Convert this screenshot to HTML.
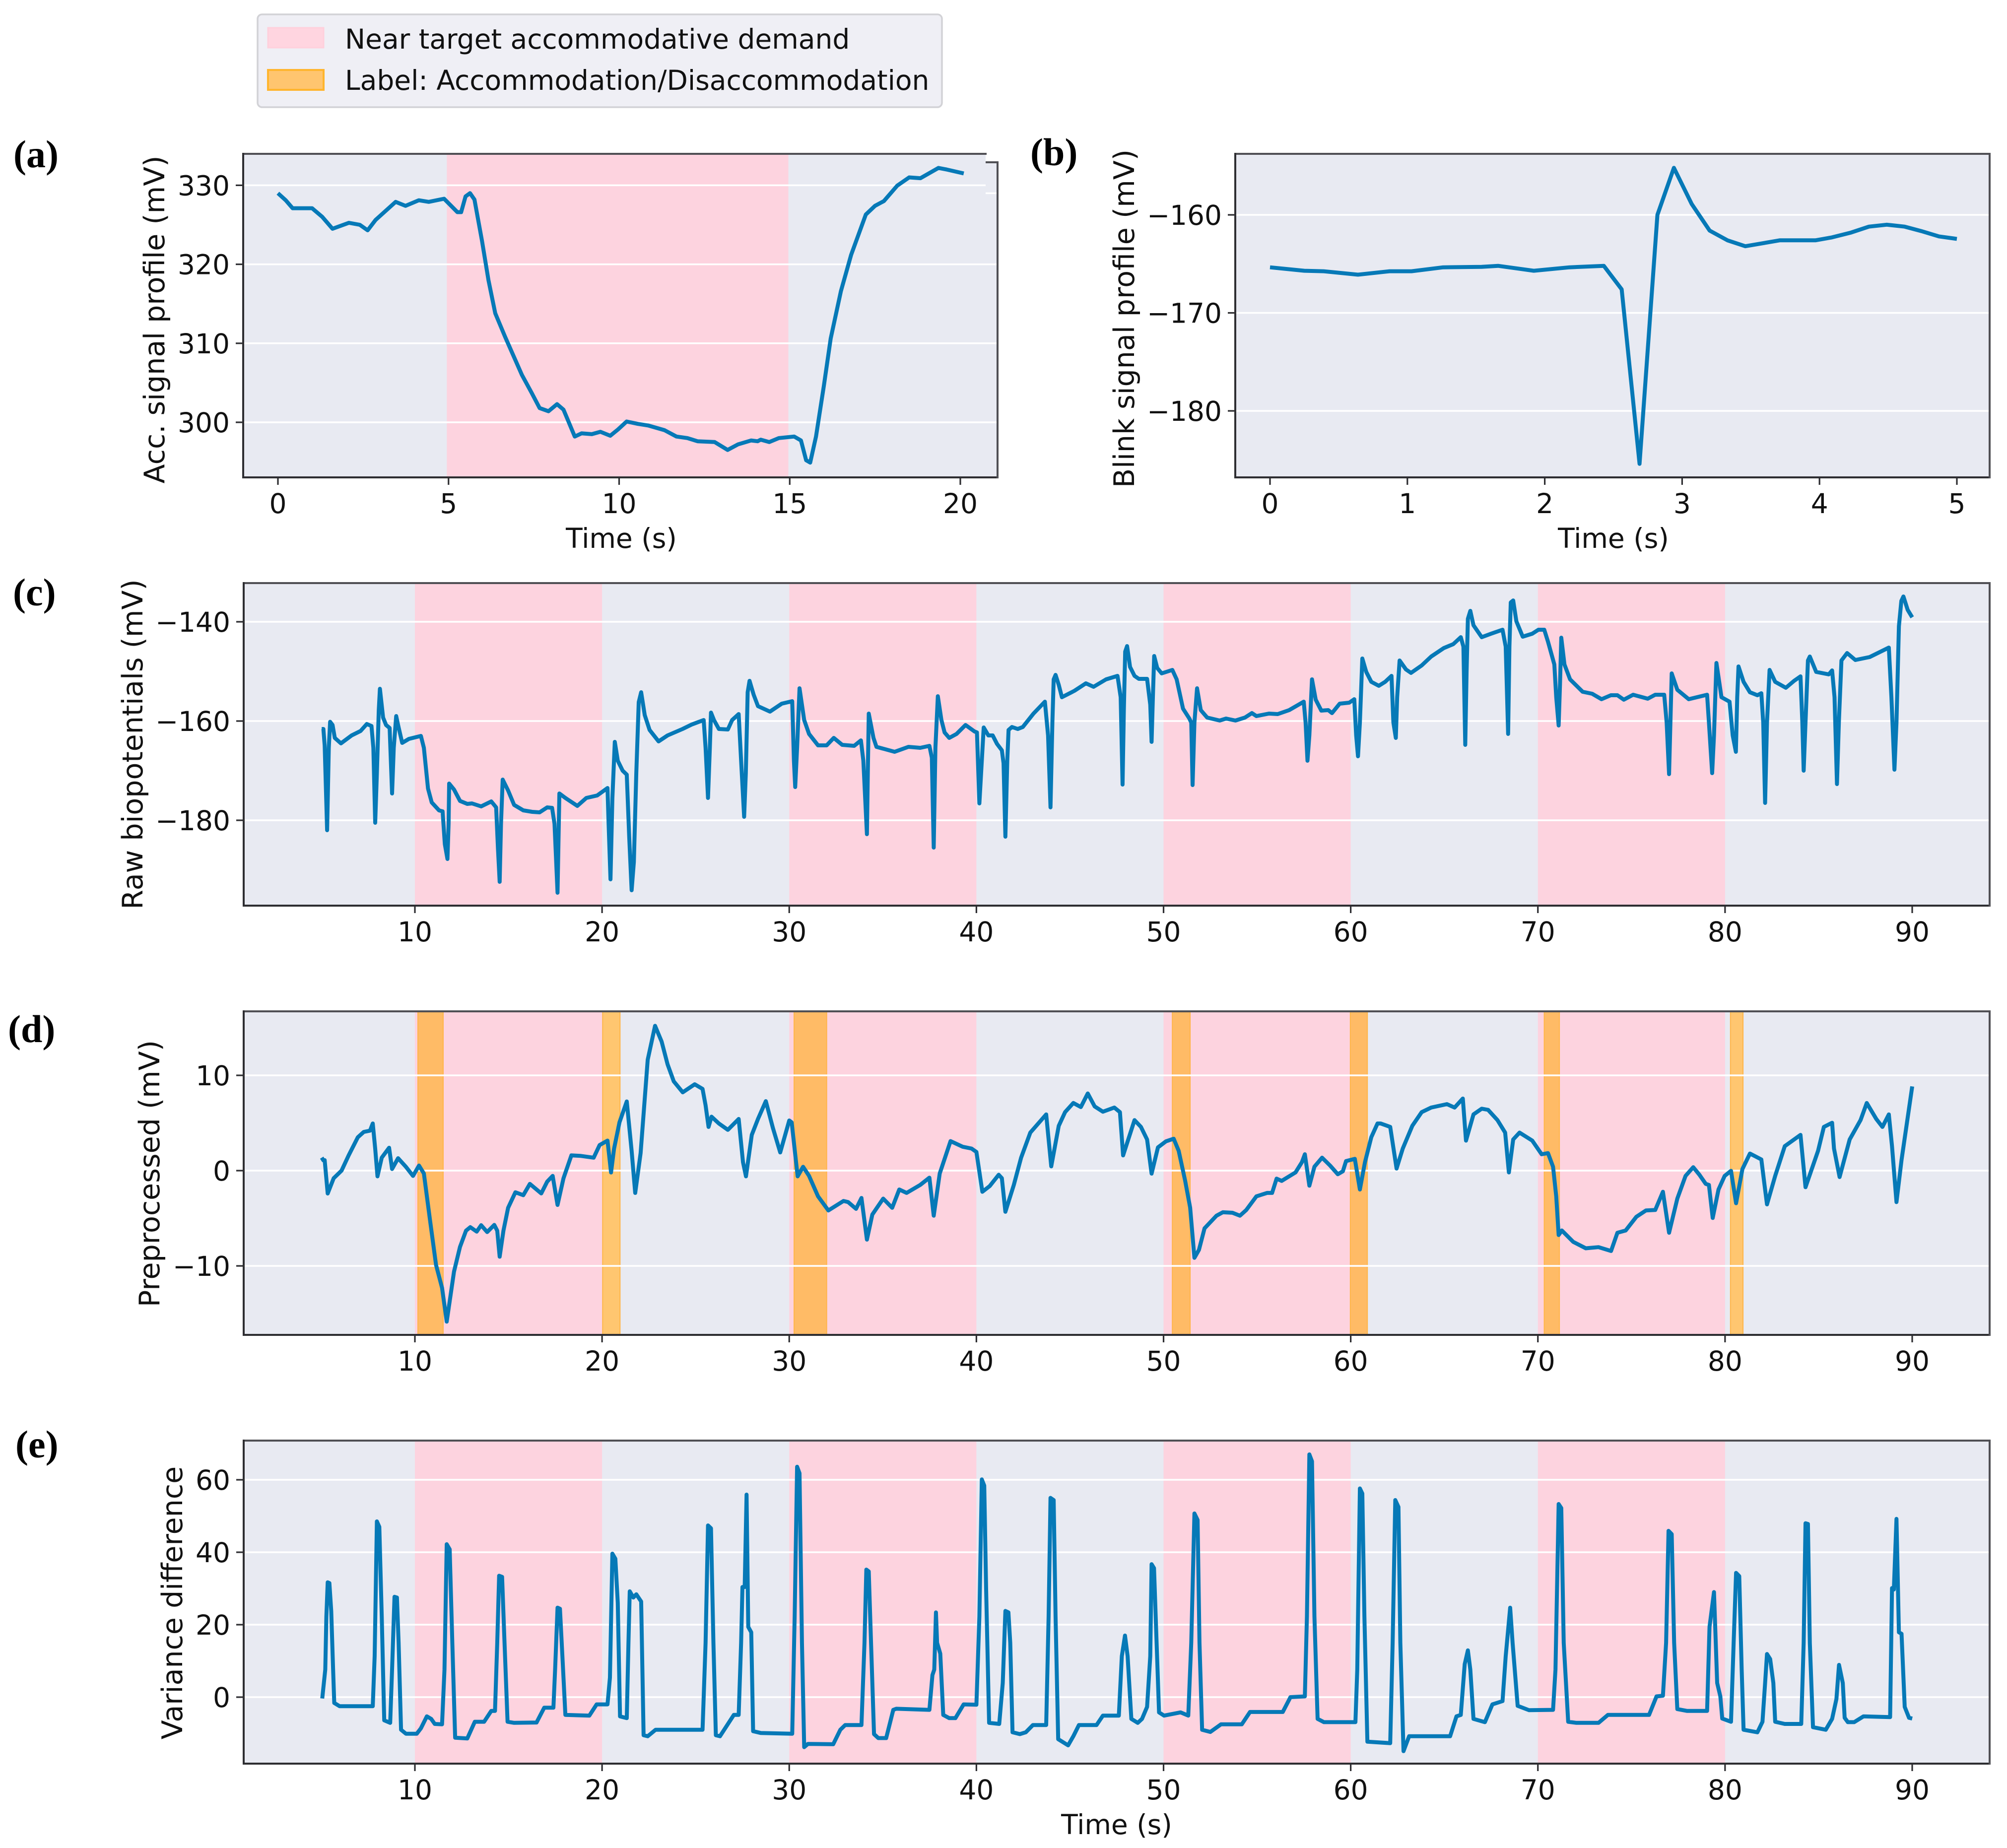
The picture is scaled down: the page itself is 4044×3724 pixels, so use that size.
<!DOCTYPE html>
<html lang="en">
<head>
<meta charset="utf-8">
<title>Biopotential signal profiles</title>
<style>
html,body{margin:0;padding:0;background:#fff;}
svg{display:block;}
text{font-family:"DejaVu Sans","Liberation Sans",sans-serif;fill:#111;}
.panel-tag{font-family:"Liberation Serif",serif;font-weight:bold;font-size:78px;fill:#000;}
</style>
</head>
<body>
<svg id="figure" xmlns="http://www.w3.org/2000/svg" width="4044" height="3724" viewBox="0 0 4044 3724">
  <rect x="0" y="0" width="4044" height="3724" fill="#ffffff"/>
  <g>
    <rect x="519" y="29" width="1379" height="187" rx="9" fill="#efeff5" stroke="#d2d2d6" stroke-width="3.5"/>
    <rect x="540" y="56" width="112" height="40" fill="#ffd5e0" stroke="#ffd0dc" stroke-width="3"/>
    <text x="695" y="98" font-size="55">Near target accommodative demand</text>
    <rect x="540" y="141" width="112" height="40" fill="#ffc56f" stroke="#ffb52e" stroke-width="4"/>
    <text x="695" y="181" font-size="55">Label: Accommodation/Disaccommodation</text>
  </g>
  <text class="panel-tag" x="27" y="337">(a)</text>
  <text class="panel-tag" x="2076" y="333">(b)</text>
  <text class="panel-tag" x="26" y="1220">(c)</text>
  <text class="panel-tag" x="16" y="2100">(d)</text>
  <text class="panel-tag" x="31" y="2937">(e)</text>
</svg>
<script>
// ---------- chart data (seconds / mV) ----------
const nearTargetStartsA = [4.95];
const nearTargetEndsA = [14.96];
const nearTargetStarts = [10, 30, 50, 70];
const nearTargetEnds = [20, 40, 60, 80];
const labelStarts = [10.16, 20.03, 30.26, 50.47, 59.98, 70.34, 80.29];
const labelEnds = [11.51, 20.96, 32.0, 51.42, 60.89, 71.15, 80.96];

const xTicksA = [0, 5, 10, 15, 20];
const yTicksA = [300, 310, 320, 330];
const xTicksB = [0, 1, 2, 3, 4, 5];
const yTicksB = [-180, -170, -160];
const xTicksLong = [10, 20, 30, 40, 50, 60, 70, 80, 90];
const yTicksC = [-180, -160, -140];
const yTicksD = [-10, 0, 10];
const yTicksE = [0, 20, 40, 60];

const timeA = [0,0.23,0.43,1.0,1.3,1.6,2.08,2.4,2.63,2.86,3.45,3.74,4.13,4.42,4.87,5.26,5.37,5.5,5.63,5.76,5.98,6.17,6.37,6.66,7.15,7.44,7.67,7.93,8.18,8.37,8.7,8.9,9.2,9.45,9.74,9.97,10.22,10.55,10.85,11.33,11.68,12.0,12.3,12.8,13.18,13.48,13.87,14.06,14.15,14.4,14.68,15.13,15.33,15.48,15.6,15.77,16.0,16.2,16.5,16.8,17.23,17.5,17.76,18.15,18.5,18.83,19.36,19.6,20.1];
const valueA = [329.0,328.1,327.1,327.1,326,324.5,325.25,325,324.3,325.6,327.9,327.4,328.1,327.9,328.3,326.6,326.6,328.6,329,328.2,323,318,313.8,310.8,306,303.7,301.8,301.4,302.3,301.6,298.2,298.6,298.5,298.8,298.3,299.1,300.1,299.8,299.6,299,298.2,298,297.6,297.5,296.5,297.2,297.7,297.6,297.8,297.5,298,298.2,297.7,295.2,294.9,298.2,304.6,310.6,316.6,321.2,326.3,327.4,328,329.95,331,330.9,332.2,332,331.5];

const timeB = [0,0.25,0.39,0.64,0.87,1.03,1.26,1.54,1.66,1.92,2.18,2.43,2.56,2.69,2.82,2.94,3.07,3.2,3.33,3.46,3.71,3.97,4.09,4.23,4.36,4.49,4.62,4.74,4.87,5];
const valueB = [-165.35,-165.7,-165.75,-166.1,-165.75,-165.75,-165.35,-165.3,-165.2,-165.7,-165.35,-165.2,-167.6,-185.4,-160,-155.2,-158.9,-161.6,-162.6,-163.2,-162.6,-162.6,-162.3,-161.8,-161.2,-161,-161.2,-161.65,-162.2,-162.45];

const timeC = [5.02,5.11,5.18,5.31,5.4,5.47,5.6,5.72,6.05,6.62,7.1,7.43,7.68,7.78,7.88,7.97,8.07,8.13,8.3,8.46,8.65,8.78,8.87,9.0,9.1,9.32,9.68,10.32,10.48,10.7,10.9,11.29,11.48,11.6,11.74,11.8,11.83,12.09,12.41,12.8,13.05,13.54,14.08,14.34,14.44,14.53,14.6,14.69,14.98,15.3,15.79,16.27,16.66,17.07,17.33,17.46,17.62,17.72,18.04,18.68,19.16,19.74,20.29,20.35,20.45,20.55,20.68,20.84,21.1,21.32,21.45,21.58,21.7,21.83,21.96,22.09,22.28,22.54,23.02,23.5,24.3,24.79,25.43,25.53,25.66,25.76,25.82,25.98,26.24,26.72,26.95,27.3,27.43,27.59,27.68,27.78,27.88,28.1,28.33,28.97,29.6,30.16,30.25,30.32,30.42,30.55,30.8,31.06,31.54,32.0,32.38,32.83,33.47,33.83,33.96,34.15,34.2,34.25,34.5,34.66,35.63,36.37,37.0,37.49,37.62,37.72,37.81,37.94,38.13,38.3,38.55,38.94,39.42,39.9,40.03,40.16,40.29,40.39,40.64,40.87,41.1,41.36,41.45,41.55,41.65,41.72,41.9,42.21,42.48,43.05,43.66,43.83,43.96,44.06,44.13,44.23,44.4,44.57,45.24,45.85,46.26,46.93,47.54,47.71,47.81,47.88,47.95,48.05,48.21,48.45,48.68,49.12,49.29,49.36,49.43,49.5,49.66,49.9,50.47,50.7,51.04,51.38,51.48,51.55,51.65,51.79,51.99,52.33,53.0,53.34,53.84,54.35,54.72,54.96,55.63,56.1,56.71,57.49,57.59,57.69,57.79,57.93,58.13,58.43,58.8,59.0,59.41,59.92,60.19,60.29,60.39,60.49,60.62,60.83,61.1,61.5,61.84,62.18,62.28,62.41,62.48,62.61,62.95,63.22,63.79,64.3,64.97,65.48,65.88,66.02,66.12,66.19,66.26,66.39,66.56,67.0,67.5,68.11,68.28,68.41,68.48,68.55,68.68,68.85,69.19,69.7,70.03,70.34,70.54,70.88,70.98,71.11,71.18,71.25,71.42,71.72,72.39,72.9,73.4,73.9,74.25,74.59,75.09,75.87,76.27,76.75,76.88,77.01,77.08,77.15,77.45,78.06,79.04,79.14,79.31,79.41,79.54,79.81,80.24,80.41,80.58,80.65,80.72,80.99,81.33,81.73,81.94,82.04,82.14,82.24,82.38,82.68,83.25,83.69,84.03,84.13,84.2,84.3,84.43,84.53,84.87,85.54,85.72,85.85,85.98,86.08,86.22,86.52,86.96,87.73,88.75,88.89,89.05,89.16,89.29,89.42,89.53,89.76,90];
const valueC = [-161.6,-161.6,-164.9,-182,-165.4,-160.15,-160.8,-163.4,-164.5,-162.9,-162,-160.6,-161,-165.4,-180.5,-170.5,-157.8,-153.5,-159.3,-160.8,-161.4,-174.6,-165.4,-159,-160.8,-164.4,-163.6,-163,-165.4,-173.6,-176.4,-178,-178.2,-184.8,-187.8,-180.7,-172.6,-173.8,-176.1,-176.7,-176.6,-177.2,-176.2,-177.4,-185.8,-192.4,-180.7,-171.8,-174,-176.9,-178,-178.3,-178.4,-177.4,-177.5,-180.7,-194.6,-174.6,-175.5,-177.1,-175.5,-175,-173.5,-180.7,-191.9,-175.6,-164.2,-168,-170,-170.8,-183.3,-194.1,-188.4,-170.5,-156.2,-154.2,-158.8,-161.8,-164.1,-162.9,-161.6,-160.7,-159.8,-165.4,-175.5,-165.4,-158.3,-159.8,-161.6,-161.7,-159.8,-158.6,-168,-179.3,-170.5,-154.2,-151.9,-154.7,-157,-158.1,-156.5,-156,-168,-173.3,-165.4,-153.4,-159.8,-162.6,-164.9,-164.9,-163.4,-164.8,-165,-163.9,-168,-182.8,-170.5,-158.5,-163.4,-165.2,-166.2,-165.2,-165.4,-165,-167.4,-185.5,-165.4,-155,-159.8,-162.3,-163.4,-162.6,-160.8,-162.1,-162.3,-176.6,-168,-161.3,-162.9,-162.9,-164.6,-165.9,-168.5,-183.3,-168,-161.8,-161.2,-161.6,-161.2,-158.5,-156.1,-162.9,-177.4,-160.3,-151.6,-150.7,-152.7,-155.2,-153.9,-152.4,-153.1,-151.6,-150.9,-155.2,-172.8,-157.8,-146,-144.9,-149.1,-150.9,-151.5,-151.5,-156.7,-164.2,-155.2,-146.9,-149.3,-150.4,-149.7,-151.6,-157.5,-159.5,-160.3,-172.9,-160.3,-153.4,-157.8,-159.3,-159.9,-159.5,-159.9,-159.3,-158.4,-159,-158.5,-158.6,-157.8,-156.1,-160.3,-168,-162.9,-151.6,-155.7,-157.9,-157.8,-158.4,-156.5,-156.3,-155.6,-162.9,-167.1,-160.3,-147.4,-150.1,-152.1,-152.9,-152.1,-150.9,-160.3,-163.4,-155.2,-147.8,-149.6,-150.3,-148.8,-147,-145.3,-144.5,-143.1,-145,-164.8,-150.1,-139.4,-137.8,-140.7,-143.1,-142.4,-141.6,-145,-162.6,-145,-136.1,-135.7,-139.9,-143,-142.4,-141.6,-141.6,-144,-148.6,-155.2,-160.9,-152.7,-143.2,-148.6,-151.6,-154.1,-154.5,-155.6,-154.8,-154.8,-155.7,-154.7,-155.5,-154.7,-154.7,-160.3,-170.7,-160.3,-150.4,-153.7,-155.6,-154.7,-160.3,-170.5,-162.9,-148.3,-155.2,-156.1,-162.9,-166.2,-155.2,-149,-152.1,-154.2,-154.8,-154.4,-160.3,-176.5,-160.3,-149.7,-152.1,-153.3,-151.9,-151,-160.3,-170,-160.3,-147.8,-147,-150.1,-150.6,-149.8,-155.2,-172.7,-160.3,-147.8,-146.3,-147.7,-147.1,-145.2,-155.2,-169.8,-160.3,-140.9,-135.8,-134.9,-137.6,-139.1];

const timeD = [5.02,5.11,5.18,5.34,5.66,6.08,6.46,6.95,7.27,7.6,7.75,7.88,8.0,8.23,8.62,8.78,9.1,9.52,9.9,10.22,10.48,10.8,11.13,11.45,11.7,12.09,12.41,12.73,12.96,13.3,13.54,13.86,14.24,14.4,14.53,14.73,14.98,15.37,15.79,16.14,16.75,17.07,17.36,17.62,17.94,18.36,18.84,19.55,19.87,20.29,20.48,20.64,20.93,21.32,21.58,21.77,22.06,22.44,22.83,23.18,23.5,23.83,24.31,24.95,25.37,25.53,25.69,25.85,26.24,26.72,27.3,27.53,27.69,28.0,28.33,28.75,29.13,29.52,30.0,30.13,30.45,30.74,31.06,31.54,32.09,32.9,33.15,33.57,33.86,34.15,34.44,35.02,35.5,35.88,36.27,37,37.49,37.72,38.04,38.62,39.26,39.74,40.0,40.32,40.71,41.19,41.36,41.55,42,42.39,42.88,43.73,44.0,44.4,44.74,45.18,45.58,45.95,46.32,46.76,47.37,47.67,47.84,48.45,48.79,49.12,49.36,49.7,50.13,50.54,50.81,51.15,51.42,51.65,51.89,52.19,52.83,53.17,53.68,54.08,54.42,54.96,55.53,55.8,56.04,56.31,57.05,57.39,57.55,57.79,58.06,58.47,58.9,59.31,59.58,59.75,60.22,60.49,60.76,61.1,61.43,61.6,62.11,62.45,62.78,63.29,63.79,64.3,65.14,65.55,65.99,66.16,66.56,67.0,67.34,67.84,68.25,68.45,68.68,69.02,69.7,70.2,70.54,70.81,70.98,71.11,71.28,71.89,72.56,73.24,73.91,74.25,74.69,75.26,75.77,76.27,76.68,77.01,77.45,77.89,78.3,78.63,78.97,79.14,79.34,79.65,79.98,80.32,80.59,80.93,81.33,81.94,82.11,82.24,82.68,83.19,84.03,84.3,84.97,85.28,85.72,85.82,86.12,86.66,87.24,87.57,88.08,88.41,88.75,88.92,89.16,89.43,90];
const valueD = [1.36,1.08,1.1,-2.4,-0.8,0,1.6,3.5,4.06,4.2,4.95,2.3,-0.6,1.36,2.4,0.17,1.3,0.4,-0.55,0.53,-0.3,-5.1,-9.9,-12.3,-15.85,-10.6,-8,-6.3,-5.93,-6.4,-5.73,-6.45,-5.7,-6.3,-9.03,-6.3,-3.9,-2.27,-2.58,-1.39,-2.39,-1.15,-0.55,-3.6,-0.8,1.6,1.55,1.36,2.68,3.15,-0.2,2.3,5.07,7.26,2.08,-2.34,1.84,11.64,15.2,13.55,11.16,9.37,8.22,9.06,8.58,6.86,4.59,5.66,4.95,4.28,5.42,0.88,-0.6,3.75,5.42,7.29,4.47,1.91,5.26,5.07,-0.6,0.4,-0.55,-2.7,-4.18,-3.18,-3.3,-4.01,-2.87,-7.24,-4.61,-2.94,-3.9,-1.98,-2.34,-1.5,-0.74,-4.73,-0.3,3.1,2.51,2.32,1.96,-2.22,-1.62,-0.43,-0.79,-4.32,-1.5,1.36,3.99,5.9,0.45,4.7,6.14,7.1,6.67,8.1,6.74,6.19,6.62,6.14,1.6,5.3,4.59,3.27,-0.31,2.44,3.08,3.35,2.08,-1.03,-3.89,-9.15,-8.32,-6.05,-4.73,-4.37,-4.42,-4.73,-4.13,-2.7,-2.34,-2.34,-0.84,-1.08,-0.19,0.88,1.72,-1.58,0.41,1.36,0.53,-0.38,-0.07,1,1.24,-1.98,0.88,3.51,4.95,4.95,4.59,0.22,2.32,4.7,6.14,6.62,6.98,6.62,7.57,3.15,5.9,6.5,6.38,5.3,3.99,-0.19,3.27,3.99,3.15,1.72,1.84,0.41,-2.7,-6.76,-6.28,-7.48,-8.15,-8.03,-8.43,-6.52,-6.28,-4.85,-4.18,-4.13,-2.22,-6.52,-2.94,-0.55,0.36,-0.43,-1.39,-1.5,-4.97,-1.98,-0.55,-0.02,-3.42,0.17,1.79,1.17,-1.5,-3.54,-0.55,2.56,3.75,-1.74,2.08,4.59,5.02,2.32,-0.67,3.27,5.3,7.1,5.42,4.59,5.9,2.56,-3.3,1.12,8.84];

const timeE = [5.05,5.21,5.27,5.34,5.43,5.53,5.63,5.69,5.98,7.75,7.85,7.97,8.1,8.23,8.36,8.68,8.78,8.91,9.04,9.13,9.26,9.52,10.1,10.32,10.64,10.87,11.06,11.45,11.58,11.7,11.86,12,12.15,12.8,13.2,13.7,14.08,14.28,14.4,14.5,14.66,14.79,14.95,15.3,16.5,16.91,17.4,17.49,17.62,17.75,17.88,18.04,19.32,19.71,20.29,20.42,20.55,20.71,20.84,20.96,21.32,21.41,21.48,21.67,21.83,22.09,22.22,22.44,22.86,25.37,25.53,25.66,25.82,25.95,26.08,26.3,27.04,27.3,27.43,27.5,27.62,27.72,27.81,27.97,28.07,28.49,30.16,30.29,30.42,30.55,30.68,30.8,31.0,32.35,32.73,32.99,33.86,34.02,34.12,34.25,34.37,34.53,34.76,35.18,35.56,35.72,37.49,37.65,37.75,37.84,37.9,38.07,38.23,38.55,38.88,39.32,40,40.16,40.29,40.42,40.52,40.68,41.22,41.41,41.55,41.71,41.81,41.93,42.32,42.64,43.02,43.73,43.86,43.96,44.13,44.23,44.37,44.9,45.18,45.48,46.42,46.76,47.61,47.77,47.94,48.08,48.28,48.62,48.85,49.12,49.29,49.36,49.49,49.63,49.76,50.03,50.91,51.32,51.48,51.65,51.82,51.92,52.06,52.5,53.07,54.18,54.62,56.37,56.78,57.55,57.66,57.79,57.93,58.06,58.23,58.57,60.25,60.35,60.49,60.62,60.73,60.89,62.11,62.24,62.38,62.55,62.65,62.82,63.12,65.31,65.65,65.88,66.09,66.26,66.39,66.56,67.17,67.57,68.11,68.28,68.52,68.65,68.92,69.53,70.81,70.94,71.11,71.25,71.38,71.62,72.06,73.24,73.74,75.94,76.34,76.68,76.85,76.98,77.15,77.28,77.45,77.96,79.04,79.17,79.41,79.58,79.75,79.85,80.32,80.46,80.59,80.76,80.89,80.99,81.73,82.0,82.14,82.24,82.41,82.58,82.68,83.19,84.07,84.2,84.3,84.43,84.53,84.7,85.38,85.72,85.95,86.09,86.29,86.39,86.56,86.9,87.4,88.82,88.92,89.02,89.16,89.29,89.43,89.6,89.83,90];
const valueE = [-0.37,7.6,22.3,31.7,31.5,23.8,7.6,-1.6,-2.5,-2.5,11.3,48.5,47,22.3,-6.4,-7.1,7.6,27.7,27.5,15,-9,-10.1,-10.1,-8.6,-5.3,-6,-7.4,-7.5,7.6,42.2,40.8,15,-11.2,-11.4,-6.8,-6.8,-3.8,-3.8,15,33.5,33.2,15,-6.8,-7.1,-7,-2.9,-2.9,7.6,24.7,24.4,11.3,-4.9,-5.1,-2,-2,5.4,39.6,38.2,26,-5.3,-5.8,15,29.2,27.5,28.4,26.4,-10.5,-10.8,-9,-9,15,47.4,46.6,15,-10.5,-10.8,-4.9,-4.9,15,30.4,30.4,55.9,19.4,17.9,-9.4,-9.9,-10.1,22.3,63.6,61.8,15,-13.8,-12.9,-13,-9,-7.7,-7.7,15,35.2,34.7,15,-10.2,-11.3,-11.3,-3.5,-3.2,-3.5,6.1,7.6,23.4,15,12,-4.9,-5.8,-5.8,-2,-2.1,22.3,60.1,58.4,29.7,-7.1,-7.4,3.9,23.8,23.4,15,-9.7,-10.2,-9.7,-7.7,-7.7,22.3,55,54.4,22.3,-11.6,-13.3,-10.8,-7.7,-7.7,-5.1,-5.1,11.3,17,11.3,-6,-7.1,-6,-2.7,11.3,36.7,35.6,15,-4.2,-5.1,-4.2,-5.1,15,50.7,48.9,15,-9,-9.6,-7.5,-7.5,-4.1,-4.1,0,0.2,22.3,67,65.1,22.3,-6,-6.9,-6.9,7.6,57.6,56.2,22.3,-12.3,-12.7,15,54.4,52.5,15,-14.9,-10.8,-10.8,-5.3,-4.9,9.1,12.9,7.6,-6,-6.9,-2,-1.1,11.3,24.7,15,-2.4,-3.6,-3.5,7.6,53.3,52.2,15,-6.8,-7.1,-7.1,-4.9,-4.9,0.2,0.4,15,45.9,45,15,-3.3,-3.8,-3.8,19.4,29,3.9,0.2,-5.9,-6.8,15,34.3,33.4,7.6,-9,-9.7,-6.8,3.9,11.9,10.5,3.9,-6.8,-7.4,-7.4,15,48,47.8,15,-8.3,-9,-6,-0.5,8.9,3.9,-5.7,-6.9,-6.9,-5.3,-5.5,30.1,29.7,49.2,17.9,17.5,-2.7,-5.7,-5.9];

// ---------- rendering ----------
const SVG_NS = 'http://www.w3.org/2000/svg';
const root = document.getElementById('figure');
const PLOT_BG = '#e8eaf2';
const NEAR_FILL = '#fdd3df';
const LINE_COLOR = '#0679b7';
const SPINE_COLOR = '#2e2e32';

function make(tag, attrs, parent) {
  const el = document.createElementNS(SVG_NS, tag);
  for (const key in attrs) {
    el.setAttribute(key, attrs[key]);
  }
  parent.appendChild(el);
  return el;
}
function tickText(v) {
  return v < 0 ? '\u2212' + Math.abs(v) : String(v);
}
function linearAxis(d0, p0, d1, p1) {
  return function (v) {
    return p0 + (v - d0) * (p1 - p0) / (d1 - d0);
  };
}

function drawPanel(cfg) {
  const g = make('g', {}, root);
  
  
  const x = linearAxis(cfg.xRef[0], cfg.xRef[1], cfg.xRef[2], cfg.xRef[3]);
  const y = linearAxis(cfg.yRef[0], cfg.yRef[1], cfg.yRef[2], cfg.yRef[3]);
  const w = cfg.right - cfg.left;
  const h = cfg.bottom - cfg.top;

  const bg = make('rect', {x: cfg.left, y: cfg.top, width: w, height: h, fill: PLOT_BG}, g);
  
  

  cfg.nearStarts.forEach(function (s, i) {
    const r = make('rect', {x: x(s), y: cfg.top, width: x(cfg.nearEnds[i]) - x(s), height: h, fill: NEAR_FILL}, g);
    
    
  });

  if (cfg.labelStarts) {
    cfg.labelStarts.forEach(function (s, i) {
      const inside = cfg.nearStarts.some(function (n, j) { return s >= n && s < cfg.nearEnds[j]; });
      const r = make('rect', {x: x(s), y: cfg.top, width: x(cfg.labelEnds[i]) - x(s), height: h, fill: inside ? '#ffbb66' : '#ffc670', stroke: '#ffb54a', 'stroke-width': 2}, g);
      
      
    });
  }

  cfg.yTicks.forEach(function (v) {
    const line = make('line', {x1: cfg.left, x2: cfg.right, y1: y(v), y2: y(v), stroke: '#ffffff', 'stroke-width': 3.5}, g);
    
    
  });

  if (cfg.id === 'a') {
    const cut = make('rect', {x: 1986, y: 300, width: 30, height: 27, fill: '#ffffff'}, g);
    
    
    const patch = make('rect', {x: 1986, y: 327, width: 24, height: 70, fill: PLOT_BG}, g);
    
    
    const offsetGrid = make('line', {x1: 1986, x2: 2009, y1: y(330) + 16, y2: y(330) + 16, stroke: '#ffffff', 'stroke-width': 3.5}, g);
    
    
  }

  let d = '';
  cfg.times.forEach(function (t, i) {
    d += (i ? 'L' : 'M') + x(t).toFixed(1) + ' ' + y(cfg.values[i]).toFixed(1);
  });
  const series = make('path', {d: d, fill: 'none', stroke: LINE_COLOR, 'stroke-width': 8, 'stroke-linejoin': 'round', 'stroke-linecap': 'butt'}, g);
  
  

  const topEnd = cfg.id === 'a' ? 1986 : cfg.right;
  const sides = [
    [cfg.left, cfg.top, topEnd, cfg.top, 'spine-top', '#505055'],
    [cfg.left, cfg.bottom, cfg.right, cfg.bottom, 'spine-bottom', SPINE_COLOR],
    [cfg.left, cfg.top, cfg.left, cfg.bottom, 'spine-left', SPINE_COLOR],
    [cfg.right, cfg.id === 'a' ? 327 : cfg.top, cfg.right, cfg.bottom, 'spine-right', '#505055']
  ];
  sides.forEach(function (s) {
    const line = make('line', {x1: s[0], y1: s[1], x2: s[2], y2: s[3], stroke: s[5], 'stroke-width': 4, 'stroke-linecap': 'square'}, g);
    
    
  });
  if (cfg.id === 'a') {
    const step = make('line', {x1: 1986, y1: 327, x2: cfg.right, y2: 327, stroke: '#505055', 'stroke-width': 4}, g);
    
    
  }

  cfg.xTicks.forEach(function (v) {
    const tick = make('line', {x1: x(v), x2: x(v), y1: cfg.bottom, y2: cfg.bottom + 15, stroke: SPINE_COLOR, 'stroke-width': 3.2}, g);
    
    
    const label = make('text', {x: x(v), y: cfg.bottom + 72, 'font-size': 55, 'text-anchor': 'middle'}, g);
    label.textContent = tickText(v);
    
    
  });

  cfg.yTicks.forEach(function (v) {
    const tick = make('line', {x1: cfg.left - 15, x2: cfg.left, y1: y(v), y2: y(v), stroke: SPINE_COLOR, 'stroke-width': 3.2}, g);
    
    
    const label = make('text', {x: cfg.left - 27, y: y(v) + 20, 'font-size': 55, 'text-anchor': 'end'}, g);
    label.textContent = tickText(v);
    
    
  });

  const yTitle = make('text', {transform: 'translate(' + cfg.yTitleX + ' ' + cfg.yTitleY + ') rotate(-90)', 'font-size': 57, 'text-anchor': 'middle'}, g);
  yTitle.textContent = cfg.yTitle;
  
  

  if (cfg.xTitleX) {
    const xTitle = make('text', {x: cfg.xTitleX, y: cfg.bottom + 142, 'font-size': 55, 'text-anchor': 'middle'}, g);
    xTitle.textContent = 'Time (s)';
    
    
  }
}

drawPanel({id: 'a', left: 490, right: 2010, top: 310, bottom: 962,
  xRef: [0, 560, 20, 1935], yRef: [300, 851, 330, 373.4],
  xTicks: xTicksA, yTicks: yTicksA, times: timeA, values: valueA,
  nearStarts: nearTargetStartsA, nearEnds: nearTargetEndsA,
  yTitle: 'Acc. signal profile (mV)', yTitleX: 331, yTitleY: 644, xTitleX: 1252});

drawPanel({id: 'b', left: 2489, right: 4009, top: 310, bottom: 962,
  xRef: [0, 2559, 5, 3943], yRef: [-180, 828, -160, 433],
  xTicks: xTicksB, yTicks: yTicksB, times: timeB, values: valueB,
  nearStarts: [], nearEnds: [],
  yTitle: 'Blink signal profile (mV)', yTitleX: 2285, yTitleY: 642, xTitleX: 3251});

drawPanel({id: 'c', left: 491, right: 4009, top: 1175, bottom: 1825,
  xRef: [10, 836, 90, 3853], yRef: [-180, 1653, -140, 1253],
  xTicks: xTicksLong, yTicks: yTicksC, times: timeC, values: valueC,
  nearStarts: nearTargetStarts, nearEnds: nearTargetEnds,
  yTitle: 'Raw biopotentials (mV)', yTitleX: 287, yTitleY: 1500});

drawPanel({id: 'd', left: 491, right: 4009, top: 2038, bottom: 2690,
  xRef: [10, 836, 90, 3853], yRef: [-10, 2551, 10, 2167],
  xTicks: xTicksLong, yTicks: yTicksD, times: timeD, values: valueD,
  nearStarts: nearTargetStarts, nearEnds: nearTargetEnds,
  labelStarts: labelStarts, labelEnds: labelEnds,
  yTitle: 'Preprocessed (mV)', yTitleX: 321, yTitleY: 2365});

drawPanel({id: 'e', left: 491, right: 4009, top: 2903, bottom: 3554,
  xRef: [10, 836, 90, 3853], yRef: [0, 3420, 60, 2982],
  xTicks: xTicksLong, yTicks: yTicksE, times: timeE, values: valueE,
  nearStarts: nearTargetStarts, nearEnds: nearTargetEnds,
  yTitle: 'Variance difference', yTitleX: 367, yTitleY: 3230, xTitleX: 2250});
</script>
</body>
</html>
